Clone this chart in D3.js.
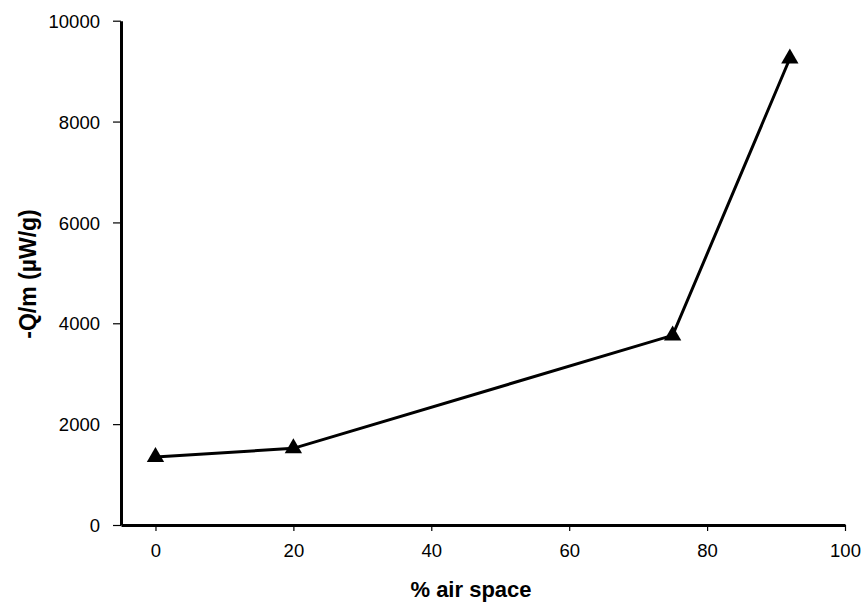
<!DOCTYPE html>
<html lang="en">
<head>
<meta charset="UTF-8">
<title>Heat flow vs air space</title>
<script src="https://d3js.org/d3.v7.min.js"></script>
<style>
  html, body { margin: 0; padding: 0; background: #fff; }
  text { font-family: "Liberation Sans", Arial, sans-serif; fill: #000; }
  .axis path, .axis line { stroke: #000; }
  .axis text { font-size: 18.5px; }
  path.line { fill: none; stroke: #000; stroke-width: 3px; }
</style>
</head>
<body>
<script>
// data
var airSpace = [0, 20, 75, 92];
var heatFlow = [1350, 1520, 3760, 9250];
var xTicks = [0, 20, 40, 60, 80, 100];
var yTicks = [0, 2000, 4000, 6000, 8000, 10000];

var W = 864, H = 604;
var margin = {left: 121, right: 19, top: 20.7, bottom: 79};
var width = W - margin.left - margin.right;
var height = H - margin.top - margin.bottom;

var rows = airSpace.map(function(d, i) { return {x: d, y: heatFlow[i]}; });

var x = d3.scaleLinear().domain([-5, 100]).range([0, width]);
var y = d3.scaleLinear().domain([0, 10000]).range([height, 0]);

var svg = d3.select("body").append("svg").attr("width", W).attr("height", H);
var g = svg.append("g").attr("transform", "translate(" + margin.left + "," + margin.top + ")");

var xAxis = g.append("g").attr("class", "axis x")
  .attr("transform", "translate(0," + height + ")")
  .call(d3.axisBottom(x).tickValues(xTicks).tickFormat(d3.format("d"))
    .tickSize(6).tickSizeOuter(0).tickPadding(13));
xAxis.select("path").attr("stroke-width", 3);
xAxis.selectAll("line").attr("stroke-width", 1.2);

var yAxis = g.append("g").attr("class", "axis y")
  .call(d3.axisLeft(y).tickValues(yTicks).tickFormat(d3.format("d"))
    .tickSize(8).tickSizeOuter(0).tickPadding(13));
yAxis.select("path").attr("stroke-width", 3);
yAxis.selectAll("line").attr("stroke-width", 1.2);
yAxis.selectAll("text").attr("dy", "0.36em");

var line = d3.line()
  .x(function(d) { return x(d.x); })
  .y(function(d) { return y(d.y); });

g.append("path").attr("class", "line").attr("d", line(rows));

g.selectAll(".pt").data(rows).enter().append("path")
  .attr("class", "pt")
  .attr("d", d3.symbol().type(d3.symbolTriangle).size(130))
  .attr("transform", function(d) { return "translate(" + x(d.x) + "," + y(d.y) + ")"; })
  .attr("fill", "#000");

svg.append("text")
  .attr("x", 471).attr("y", 597)
  .attr("text-anchor", "middle")
  .attr("font-size", "22px").attr("font-weight", "bold")
  .text("% air space");

svg.append("text")
  .attr("transform", "translate(36,274) rotate(-90)")
  .attr("text-anchor", "middle")
  .attr("font-size", "23px").attr("font-weight", "bold")
  .text("-Q/m (\u00b5W/g)");
</script>
</body>
</html>
